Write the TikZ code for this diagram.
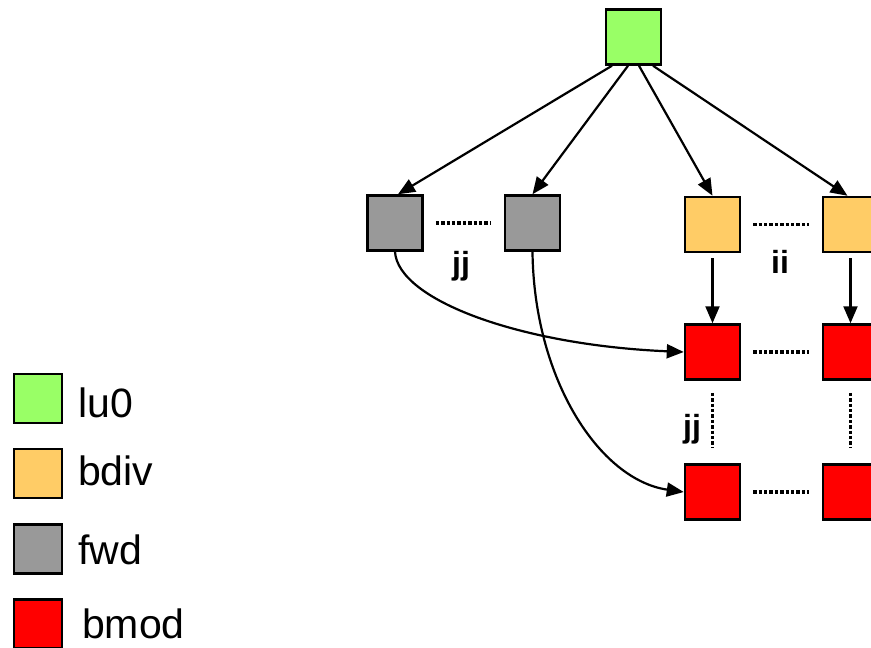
\documentclass[tikz,border=0pt]{standalone}
\usepackage{fontspec}
\setmainfont{Liberation Sans}
\usetikzlibrary{arrows.meta}
\definecolor{luzero}{HTML}{99FF66}
\definecolor{bdivc}{HTML}{FFCC66}
\definecolor{fwdc}{HTML}{999999}
\definecolor{bmodc}{HTML}{FF0000}
\tikzset{
  blk/.style={draw=black, line width=2.5pt, minimum width=55pt, minimum height=55pt, inner sep=0pt},
  keybox/.style={draw=black, line width=2.5pt, minimum width=48pt, minimum height=49pt, inner sep=0pt},
  dep/.style={line width=2.2pt, -{Triangle[length=17pt,width=14pt]}},
  dotline/.style={line width=3.5pt, dash pattern=on 3.4pt off 2pt},
  idx/.style={font=\fontsize{32}{36}\selectfont\bfseries, inner sep=0pt},
  keytext/.style={font=\fontsize{41}{48}\selectfont, inner sep=0pt, anchor=base west}
}
\begin{document}
\begin{tikzpicture}[x=1pt,y=-1pt]
\useasboundingbox (0,0) rectangle (871,648);

% task blocks
\node[blk, fill=luzero] (lu0) at (633.5,37) {};
\node[blk, fill=fwdc] (fwd1) at (395,223) {};
\node[blk, fill=fwdc] (fwd2) at (532.5,223) {};
\node[blk, fill=bdivc] (bdiv1) at (712.5,224.5) {};
\node[blk, fill=bdivc] (bdiv2) at (850.5,224.5) {};
\node[blk, fill=bmodc] (bmod1) at (712.5,352) {};
\node[blk, fill=bmodc] (bmod2) at (850.5,352) {};
\node[blk, fill=bmodc] (bmod3) at (712.5,492) {};
\node[blk, fill=bmodc] (bmod4) at (850.5,492) {};

% dependencies from lu0
\draw[dep] ([xshift=-21.5pt]lu0.south) -- ([xshift=3pt]fwd1.north);
\draw[dep] ([xshift=-5.5pt]lu0.south) -- (fwd2.north);
\draw[dep] ([xshift=5.5pt]lu0.south) -- (bdiv1.north);
\draw[dep] ([xshift=19.5pt]lu0.south) -- ([xshift=-3pt]bdiv2.north);

% bdiv -> bmod
\draw[dep] ([yshift=-5pt]bdiv1.south) -- (bmod1.north);
\draw[dep] ([yshift=-5pt]bdiv2.south) -- (bmod2.north);

% fwd -> bmod
\draw[dep] (fwd1.south) .. controls (398,300) and (520,345) .. (bmod1.west);
\draw[dep] (fwd2.south) .. controls (534,380) and (600,480) .. (bmod3.west);

% elision dots
\draw[dotline] ([xshift=12pt]fwd1.east) -- ([xshift=-13pt]fwd2.west);
\draw[dotline] ([xshift=12pt]bdiv1.east) -- ([xshift=-13pt]bdiv2.west);
\draw[dotline] ([xshift=12pt]bmod1.east) -- ([xshift=-13pt]bmod2.west);
\draw[dotline] ([xshift=12pt]bmod3.east) -- ([xshift=-13pt]bmod4.west);
\draw[dotline] ([yshift=-12pt]bmod1.south) -- ([yshift=16pt]bmod3.north);
\draw[dotline] ([yshift=-12pt]bmod2.south) -- ([yshift=16pt]bmod4.north);

% index labels
\node[idx] (jjtop) at (461,266) {jj};
\node[idx] (ii) at (780,262) {ii};
\node[idx] (jjside) at (692,429) {jj};

% legend
\node[keybox, fill=luzero] (klu) at (38,398.5) {};
\node[keybox, fill=bdivc] (kbdiv) at (38,473.5) {};
\node[keybox, fill=fwdc] (kfwd) at (38,549) {};
\node[keybox, fill=bmodc] (kbmod) at (38,624) {};
\node[keytext] (tlu) at (78,417) {lu0};
\node[keytext] (tbdiv) at (78,485) {bdiv};
\node[keytext] (tfwd) at (78,564) {fwd};
\node[keytext] (tbmod) at (82,638) {bmod};
\end{tikzpicture}
\end{document}
